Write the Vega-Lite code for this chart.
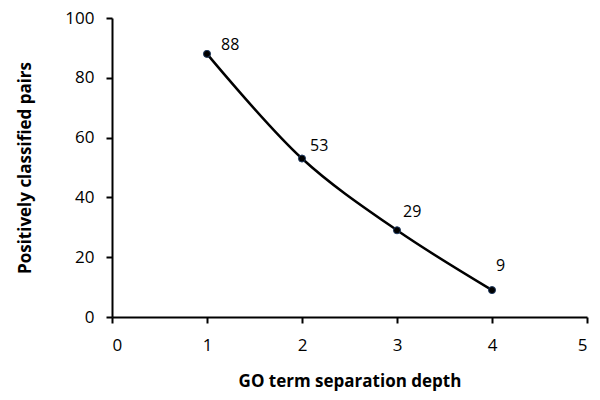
{
  "$schema": "https://vega.github.io/schema/vega-lite/v6.json",
  "width": 475,
  "height": 299,
  "autosize": {"type": "none"},
  "padding": {"left": 112, "top": 18, "right": 13, "bottom": 83},
  "background": "white",
  "config": {
    "view": {"stroke": null},
    "font": "Open Sans",
    "axis": {
      "grid": false,
      "domainColor": "black",
      "domainWidth": 2,
      "tickColor": "black",
      "tickWidth": 2,
      "tickSize": 6,
      "labelFont": "Open Sans",
      "labelFontSize": 17,
      "labelColor": "black",
      "titleFont": "Open Sans",
      "titleFontSize": 17,
      "titleFontWeight": "bold",
      "titleColor": "black"
    }
  },
  "data": {
    "values": [
      {"depth": 1, "pairs": 88},
      {"depth": 2, "pairs": 53},
      {"depth": 3, "pairs": 29},
      {"depth": 4, "pairs": 9}
    ]
  },
  "encoding": {
    "x": {
      "field": "depth",
      "type": "quantitative",
      "scale": {"domain": [0, 5], "nice": false},
      "axis": {"title": "GO term separation depth", "values": [0, 1, 2, 3, 4, 5], "labelPadding": 14, "titlePadding": 20}
    },
    "y": {
      "field": "pairs",
      "type": "quantitative",
      "scale": {"domain": [0, 100], "nice": false},
      "axis": {"title": "Positively classified pairs", "values": [0, 20, 40, 60, 80, 100], "labelPadding": 12, "titlePadding": 30}
    }
  },
  "layer": [
    {"mark": {"type": "line", "interpolate": "catmull-rom", "color": "black", "strokeWidth": 2.5}},
    {"mark": {"type": "point", "filled": true, "size": 50, "fill": "black", "stroke": "#1f3a60", "strokeWidth": 1, "opacity": 1}},
    {"transform": [{"filter": "datum.depth == 1"}], "mark": {"type": "text", "align": "left", "baseline": "middle", "dx": 14, "dy": -9, "fontSize": 16, "color": "black"}, "encoding": {"text": {"field": "pairs"}}},
    {"transform": [{"filter": "datum.depth == 2"}], "mark": {"type": "text", "align": "left", "baseline": "middle", "dx": 8, "dy": -13, "fontSize": 16, "color": "black"}, "encoding": {"text": {"field": "pairs"}}},
    {"transform": [{"filter": "datum.depth == 3"}], "mark": {"type": "text", "align": "left", "baseline": "middle", "dx": 6, "dy": -18, "fontSize": 16, "color": "black"}, "encoding": {"text": {"field": "pairs"}}},
    {"transform": [{"filter": "datum.depth == 4"}], "mark": {"type": "text", "align": "left", "baseline": "middle", "dx": 4, "dy": -24, "fontSize": 16, "color": "black"}, "encoding": {"text": {"field": "pairs"}}}
  ]
}
